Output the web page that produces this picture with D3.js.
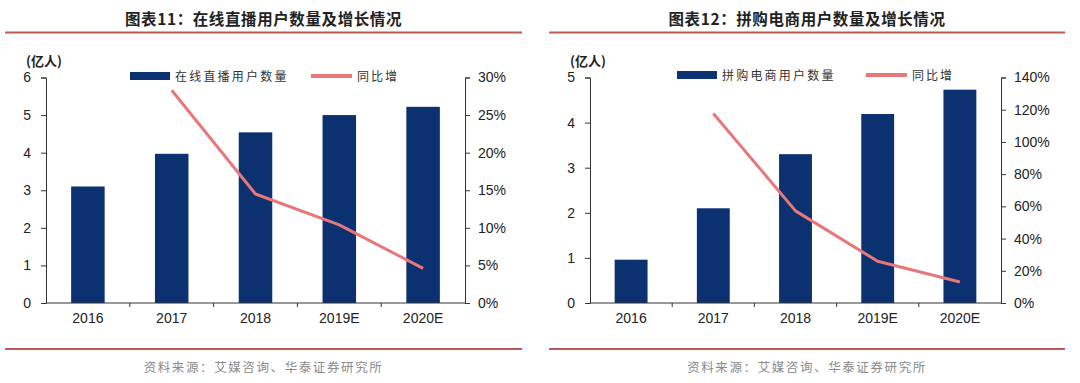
<!DOCTYPE html>
<html><head><meta charset="utf-8">
<script src="https://cdn.jsdelivr.net/npm/d3@7"></script>
<style>
html,body{margin:0;padding:0;background:#fff;}
svg{display:block;}
</style></head>
<body>
<svg id="c" width="1080" height="383"></svg>
<script>
// ---- data ----
const categories = ["2016", "2017", "2018", "2019E", "2020E"];
const liveUsers  = [3.1, 3.97, 4.54, 5.0, 5.22];
const liveGrowth = [null, 28.3, 14.5, 10.4, 4.6];
const pddUsers   = [0.96, 2.1, 3.3, 4.19, 4.73];
const pddGrowth  = [null, 117.7, 57.2, 25.9, 13.0];
const leftTicksA  = [0, 1, 2, 3, 4, 5, 6];
const rightTicksA = [0, 5, 10, 15, 20, 25, 30];
const leftTicksB  = [0, 1, 2, 3, 4, 5];
const rightTicksB = [0, 20, 40, 60, 80, 100, 120, 140];
const titles = ["图表11：在线直播用户数量及增长情况", "图表12：拼购电商用户数量及增长情况"];
const barNames = ["在线直播用户数量", "拼购电商用户数量"];
const lineName = "同比增";
const unitLabel = "(亿人)";
const sourceText = "资料来源：艾媒咨询、华泰证券研究所";

const svg = d3.select("#c");
const BAR = "#0b3170", LINE = "#e8777a", RULE = "#bd5a52";
const cjk = "'Noto Sans CJK SC', 'Noto Sans', sans-serif";
const num = "'Liberation Sans', Arial, sans-serif";

function panel(cfg) {
  const g = svg.append("g");
  const {x0, x1, px0, px1, yTop, yBot, bars, growth, lt, rt, title, barName, legBar, legLine} = cfg;
  const cx = (x0 + x1) / 2;
  // title + rules
  g.append("text").attr("x", cx).attr("y", 25).attr("text-anchor", "middle")
    .attr("font-family", cjk).attr("font-weight", "bold").attr("font-size", 15.5)
    .attr("letter-spacing", 0.6).attr("fill", "#222").text(title);
  g.append("line").attr("x1", x0).attr("x2", x1).attr("y1", 32.5).attr("y2", 32.5)
    .attr("stroke", RULE).attr("stroke-width", 2);
  g.append("line").attr("x1", x0).attr("x2", x1).attr("y1", 349).attr("y2", 349)
    .attr("stroke", RULE).attr("stroke-width", 2);
  g.append("text").attr("x", cx).attr("y", 372).attr("text-anchor", "middle")
    .attr("font-family", cjk).attr("font-size", 12.5).attr("letter-spacing", 1.6)
    .attr("fill", "#8a8a8a").text(sourceText);

  const x = d3.scaleBand().domain(categories).range([px0, px1]).paddingInner(0.6).paddingOuter(0.3);
  const xb = d3.scaleBand().domain(categories).range([px0, px1]);
  const yL = d3.scaleLinear().domain([0, d3.max(lt)]).range([yBot, yTop]);
  const yR = d3.scaleLinear().domain([0, d3.max(rt)]).range([yBot, yTop]);

  // bars
  g.selectAll("rect.bar").data(bars).join("rect").attr("class", "bar")
    .attr("x", (d, i) => x(categories[i])).attr("width", x.bandwidth())
    .attr("y", d => yL(d)).attr("height", d => yBot - yL(d)).attr("fill", BAR);

  // left axis
  const axL = d3.axisLeft(yL).tickValues(lt).tickSize(5).tickPadding(10).tickFormat(d3.format("d"));
  const gl = g.append("g").attr("transform", `translate(${px0},0)`).call(axL);
  // right axis
  const axR = d3.axisRight(yR).tickValues(rt).tickSize(5).tickPadding(8).tickFormat(d => d + "%");
  const gr = g.append("g").attr("transform", `translate(${px1},0)`).call(axR);
  // bottom axis
  const axB = d3.axisBottom(xb).tickSize(0).tickPadding(10);
  const gb = g.append("g").attr("transform", `translate(0,${yBot})`).call(axB);
  // boundary ticks
  g.selectAll("line.bt").data(categories.slice(1)).join("line").attr("class", "bt")
    .attr("x1", d => xb(d)).attr("x2", d => xb(d)).attr("y1", yBot).attr("y2", yBot + 4)
    .attr("stroke", "#333");
  [gl, gr, gb].forEach(a => {
    a.selectAll("path").attr("stroke", "#333").attr("stroke-width", 1);
    a.selectAll("line").attr("stroke", "#333");
    a.selectAll("text").attr("font-family", num).attr("font-size", 14).attr("fill", "#222");
  });
  gb.select("path").attr("d", `M${px0},0H${px1}`);

  // line
  const line = d3.line().defined(d => d != null)
    .x((d, i) => xb(categories[i]) + xb.bandwidth() / 2).y(d => yR(d));
  g.append("path").datum(growth).attr("d", line).attr("fill", "none")
    .attr("stroke", LINE).attr("stroke-width", 3).attr("stroke-linejoin", "round");

  // unit label
  g.append("text").attr("x", px0 - 2).attr("y", 66).attr("text-anchor", "middle")
    .attr("font-family", cjk).attr("font-weight", "bold").attr("font-size", 13)
    .attr("fill", "#222").text(unitLabel);

  // legend
  g.append("rect").attr("x", legBar).attr("y", cfg.legY - 4).attr("width", 40).attr("height", 8).attr("fill", BAR);
  g.append("text").attr("x", legBar + 45).attr("y", cfg.legY + 4.5)
    .attr("font-family", cjk).attr("font-size", 12).attr("letter-spacing", 2.2)
    .attr("fill", "#333").text(barName);
  g.append("line").attr("x1", legLine).attr("x2", legLine + 41).attr("y1", cfg.legY).attr("y2", cfg.legY)
    .attr("stroke", LINE).attr("stroke-width", 4);
  g.append("text").attr("x", legLine + 46).attr("y", cfg.legY + 4.5)
    .attr("font-family", cjk).attr("font-size", 12).attr("letter-spacing", 2)
    .attr("fill", "#333").text(lineName);
}

panel({x0: 5, x1: 522, px0: 46, px1: 465, yTop: 77.5, yBot: 303,
  bars: liveUsers, growth: liveGrowth, lt: leftTicksA, rt: rightTicksA,
  title: titles[0], barName: barNames[0], legBar: 130, legLine: 311, legY: 76});
panel({x0: 549, x1: 1065, px0: 590, px1: 1001, yTop: 77.5, yBot: 303,
  bars: pddUsers, growth: pddGrowth, lt: leftTicksB, rt: rightTicksB,
  title: titles[1], barName: barNames[1], legBar: 677, legLine: 866, legY: 75});
</script>
</body></html>
